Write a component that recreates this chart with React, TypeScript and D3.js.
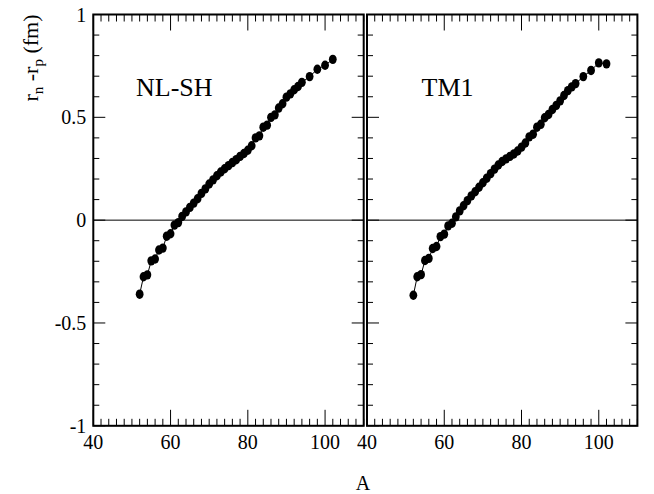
import React from 'react';
import * as d3 from 'd3';

// mass numbers A, shared by both panels
const massNumbers = [
  52, 53, 54, 55, 56, 57, 58, 59, 60, 61, 62, 63, 64, 65, 66, 67, 68, 69, 70, 71,
  72, 73, 74, 75, 76, 77, 78, 79, 80, 81, 82, 83, 84, 85, 86, 87, 88, 89, 90, 91,
  92, 93, 94, 96, 98, 100, 102,
];

// r_n - r_p (fm), NL-SH
const nlshValues = [
  -0.36, -0.275, -0.266, -0.198, -0.189, -0.145, -0.136, -0.078, -0.066, -0.024,
  -0.012, 0.018, 0.04, 0.062, 0.083, 0.104, 0.13, 0.152, 0.176, 0.196,
  0.216, 0.234, 0.25, 0.265, 0.28, 0.294, 0.31, 0.324, 0.34, 0.362,
  0.4, 0.41, 0.452, 0.462, 0.5, 0.512, 0.545, 0.566, 0.598, 0.614,
  0.634, 0.65, 0.67, 0.698, 0.734, 0.753, 0.782,
];

// r_n - r_p (fm), TM1
const tm1Values = [
  -0.365, -0.275, -0.265, -0.196, -0.186, -0.138, -0.128, -0.08, -0.068, -0.028,
  -0.015, 0.016, 0.045, 0.07, 0.095, 0.118, 0.138, 0.16, 0.182, 0.204,
  0.226, 0.248, 0.268, 0.285, 0.298, 0.31, 0.322, 0.336, 0.355, 0.375,
  0.405, 0.418, 0.452, 0.466, 0.498, 0.514, 0.538, 0.558, 0.58, 0.606,
  0.63, 0.648, 0.664, 0.698, 0.728, 0.765, 0.76,
];

const xTickLabels = [40, 60, 80, 100];
const yTickLabels = [-1, -0.5, 0, 0.5, 1];

const width = 654;
const height = 494;
const font = "'Liberation Serif', 'Times New Roman', serif";

const y = d3.scaleLinear().domain([-1, 1]).range([425.8, 14.5]);
const xMinor = d3.range(40, 110.01, 2);
const yMinor = d3.range(-1, 1.001, 0.1);

function Panel({ x0, x1, values, label, labelX, showY }) {
  const x = d3.scaleLinear().domain([40, 110]).range([x0, x1]);
  const pts = massNumbers.map((a, i) => ({ a, v: values[i] }));
  const line = d3.line().x(d => x(d.a)).y(d => y(d.v));
  const top = y(1);
  const bottom = y(-1);

  return (
    <g>
      {/* x ticks, bottom and top */}
      {xMinor.map(t => {
        const major = Math.abs(t % 20) < 1e-6;
        const len = major ? 16 : 7;
        return (
          <g key={'x' + t} stroke="black" strokeWidth={1}>
            <line x1={x(t)} x2={x(t)} y1={bottom} y2={bottom - len} />
            <line x1={x(t)} x2={x(t)} y1={top} y2={top + len} />
          </g>
        );
      })}
      {/* y ticks, left and right */}
      {yMinor.map(t => {
        const major = Math.abs(Math.round(t * 10) % 5) === 0;
        const len = major ? 12 : 6;
        return (
          <g key={'y' + t.toFixed(1)} stroke="black" strokeWidth={1}>
            <line x1={x0} x2={x0 + len} y1={y(t)} y2={y(t)} />
            <line x1={x1} x2={x1 - len} y1={y(t)} y2={y(t)} />
          </g>
        );
      })}
      <line x1={x0} x2={x1} y1={y(0)} y2={y(0)} stroke="black" strokeWidth={1} />
      <rect x={x0} y={top} width={x1 - x0} height={bottom - top} fill="none" stroke="black" strokeWidth={2} />

      <path d={line(pts)} fill="none" stroke="black" strokeWidth={1} />
      {pts.map(d => (
        <ellipse key={d.a} cx={x(d.a)} cy={y(d.v)} rx={3.9} ry={4.7} fill="black" />
      ))}

      <text x={labelX} y={96} fontFamily={font} fontSize={26}>{label}</text>

      {xTickLabels.map(t => (
        <text key={'xl' + t} x={x(t)} y={449} textAnchor="middle" fontFamily={font} fontSize={20}>{t}</text>
      ))}
      {showY && yTickLabels.map(t => (
        <text key={'yl' + t} x={x0 - 7} y={y(t) + 7} textAnchor="end" fontFamily={font} fontSize={20}>{t}</text>
      ))}
    </g>
  );
}

export default function App() {
  return (
    <svg width={width} height={height} style={{ position: 'absolute', left: 0, top: 0, background: 'white' }}>
      <Panel x0={93.3} x1={363.7} values={nlshValues} label="NL-SH" labelX={136} showY={true} />
      <Panel x0={367} x1={637.4} values={tm1Values} label="TM1" labelX={421.5} showY={false} />
      <text x={363} y={490} textAnchor="middle" fontFamily={font} fontSize={20}>A</text>
      <text transform="translate(38,58) rotate(-90)" textAnchor="middle" fontFamily={font} fontSize={22}>
        r<tspan fontSize={15} dy={5}>n</tspan><tspan dy={-5}> -r</tspan><tspan fontSize={15} dy={5}>p</tspan><tspan dy={-5}> (fm)</tspan>
      </text>
    </svg>
  );
}
